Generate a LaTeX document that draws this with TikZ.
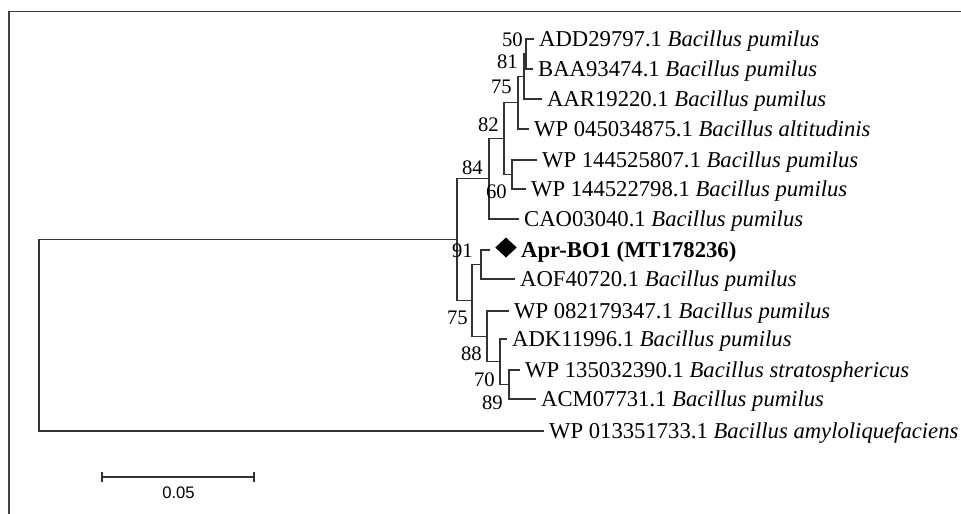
\documentclass[tikz,border=0pt]{standalone}
\usepackage{fontspec}
\setmainfont{Liberation Serif}
\setsansfont{Liberation Sans}
\usetikzlibrary{shapes.geometric}
\begin{document}
\begin{tikzpicture}[x=0.75pt,y=-0.75pt,
  branch/.style={draw=black!80, line width=0.95pt},
  leaf/.style={anchor=west, inner xsep=4.1pt, inner ysep=0pt, text height=11.25pt, text depth=0pt, font=\fontsize{17}{19}\selectfont},
  boot/.style={anchor=east, inner sep=0pt, font=\fontsize{15.5}{17}\selectfont},
  frameline/.style={draw=black!75, line width=0.8pt},
  scalebar/.style={draw=black!80, line width=0.8pt}]
\useasboundingbox (0,0) rectangle (961,514);
% frame
\coordinate (f0) at (9,11.5);
\coordinate (f1) at (961,11.5);
\coordinate (f2) at (9,514);
\draw[frameline] (f1) -- (f0) -- (f2);
% internal nodes
\coordinate (root) at (39,335.3);
\coordinate (n91) at (457,239.6);
\coordinate (n84) at (489,178.8);
\coordinate (n82) at (504,138.6);
\coordinate (n75a) at (518,102.75);
\coordinate (n81) at (524,76.5);
\coordinate (n50) at (526,54);
\coordinate (n60) at (512,174.5);
\coordinate (n75b) at (472,300.4);
\coordinate (nA) at (481,264.5);
\coordinate (n88) at (487,336.4);
\coordinate (n70) at (500,361.75);
\coordinate (n89) at (509,384.5);
% leaves
\node[leaf] (l1) at (533.5,39) {ADD29797.1 \textit{Bacillus pumilus}};
\node[leaf] (l2) at (532.5,69) {BAA93474.1 \textit{Bacillus pumilus}};
\node[leaf] (l3) at (541.5,99) {AAR19220.1 \textit{Bacillus pumilus}};
\node[leaf] (l4) at (528.5,129) {WP 045034875.1 \textit{Bacillus altitudinis}};
\node[leaf] (l5) at (536.5,160) {WP 144525807.1 \textit{Bacillus pumilus}};
\node[leaf] (l6) at (525.5,189) {WP 144522798.1 \textit{Bacillus pumilus}};
\node[leaf] (l7) at (518.5,219) {CAO03040.1 \textit{Bacillus pumilus}};
\coordinate (a8) at (490,250);
\node[diamond, fill=black, inner sep=0pt, outer sep=0pt, minimum width=16pt, minimum height=15pt] (dia) at (506,247.5) {};
\node[leaf] (l8) at (515.5,250) {\textbf{Apr-BO1 (MT178236)}};
\node[leaf] (l9) at (514.5,279) {AOF40720.1 \textit{Bacillus pumilus}};
\node[leaf] (l10) at (508.5,311) {WP 082179347.1 \textit{Bacillus pumilus}};
\node[leaf] (l11) at (506.5,339) {ADK11996.1 \textit{Bacillus pumilus}};
\node[leaf] (l12) at (519.5,370) {WP 135032390.1 \textit{Bacillus stratosphericus}};
\node[leaf] (l13) at (535.5,399) {ACM07731.1 \textit{Bacillus pumilus}};
\node[leaf] (l14) at (543.5,431) {WP 013351733.1 \textit{Bacillus amyloliquefaciens}};
% branches
\draw[branch] (root) |- (n91);
\draw[branch] (root) |- (l14.west);
\draw[branch] (n91) |- (n84);
\draw[branch] (n91) |- (n75b);
\draw[branch] (n84) |- (n82);
\draw[branch] (n84) |- (l7.west);
\draw[branch] (n82) |- (n75a);
\draw[branch] (n82) |- (n60);
\draw[branch] (n75a) |- (n81);
\draw[branch] (n75a) |- (l4.west);
\draw[branch] (n81) |- (n50);
\draw[branch] (n81) |- (l3.west);
\draw[branch] (n50) |- (l1.west);
\draw[branch] (n50) |- (l2.west);
\draw[branch] (n60) |- (l5.west);
\draw[branch] (n60) |- (l6.west);
\draw[branch] (n75b) |- (nA);
\draw[branch] (n75b) |- (n88);
\draw[branch] (nA) |- (a8);
\draw[branch] (nA) |- (l9.west);
\draw[branch] (n88) |- (l10.west);
\draw[branch] (n88) |- (n70);
\draw[branch] (n70) |- (l11.west);
\draw[branch] (n70) |- (n89);
\draw[branch] (n89) |- (l12.west);
\draw[branch] (n89) |- (l13.west);
% bootstrap values
\node[boot] (b50) at (523,40) {50};
\node[boot] (b81) at (518,62) {81};
\node[boot] (b75a) at (512,87) {75};
\node[boot] (b82) at (499,125) {82};
\node[boot] (b84) at (483,168) {84};
\node[boot] (b60) at (507,192) {60};
\node[boot] (b91) at (473,251) {91};
\node[boot] (b75b) at (468,318) {75};
\node[boot] (b88) at (482,354) {88};
\node[boot] (b70) at (495,380) {70};
\node[boot] (b89) at (503,403) {89};
% scale bar
\coordinate (s1) at (102,477);
\coordinate (s2) at (254,477);
\draw[scalebar] (s1) -- (s2);
\draw[scalebar] (s1) ++(0,-5) -- ++(0,10);
\draw[scalebar] (s2) ++(0,-5) -- ++(0,10);
\node[font=\sffamily\fontsize{12.5}{14}\selectfont, inner sep=0pt] (sl) at (178.5,492.5) {0.05};
\end{tikzpicture}
\end{document}
